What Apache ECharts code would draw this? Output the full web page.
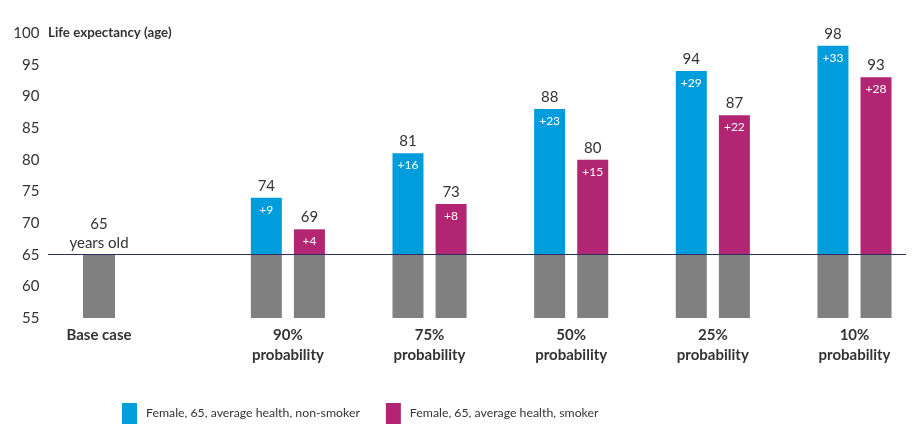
<!DOCTYPE html>
<html>
<head>
<meta charset="utf-8">
<script src="https://cdn.jsdelivr.net/npm/echarts@6/dist/echarts.min.js"></script>
<style>
html,body{margin:0;padding:0;background:#fff;}
#chart{width:916px;height:434px;}
</style>
</head>
<body>
<div id="chart"></div>
<script>
// Categories (blank slots keep the wider gap after the base case)
var categories = ['Base case', '', '', '', '90%\nprobability', '', '', '75%\nprobability', '', '', '50%\nprobability', '', '', '25%\nprobability', '', '', '10%\nprobability'];
var groupCategories = ['90%\nprobability', '75%\nprobability', '50%\nprobability', '25%\nprobability', '10%\nprobability'];
var baseAge = 65;
var nonSmoker = [74, 81, 88, 94, 98];
var smoker = [69, 73, 80, 87, 93];
var yTicks = [55, 60, 65, 70, 75, 80, 85, 90, 95, 100];
var seriesNames = ['Female, 65, average health, non-smoker', 'Female, 65, average health, smoker'];

var FONT = 'Lato';
var TXT = '#333333';
var BLUE = '#009DDC';
var MAGENTA = '#B22572';
var GREY = '#808080';
var yMin = yTicks[0];

function spread(values) {
  return categories.map(function (c) {
    var i = groupCategories.indexOf(c);
    return i >= 0 ? values[i] : null;
  });
}
var hiddenVals = spread(groupCategories.map(function () { return yMin; }));
var greyVals = spread(groupCategories.map(function () { return baseAge - yMin; }));
var blueDelta = spread(nonSmoker.map(function (v) { return v - baseAge; }));
var magDelta = spread(smoker.map(function (v) { return v - baseAge; }));
var baseHidden = categories.map(function (c) { return c === 'Base case' ? yMin : null; });
var baseCase = categories.map(function (c) { return c === 'Base case' ? baseAge - yMin : null; });

function topLabel() {
  return {
    show: true,
    position: 'top',
    distance: -25,
    fontFamily: FONT,
    formatter: function (p) {
      return '{t|' + (baseAge + p.value) + '}\n{d|+' + p.value + '}';
    },
    rich: {
      t: { fontSize: 15, color: TXT, fontFamily: FONT, lineHeight: 22, align: 'center' },
      d: { fontSize: 12, color: '#ffffff', fontFamily: FONT, lineHeight: 26, align: 'center' }
    }
  };
}
var invisible = { color: 'rgba(0,0,0,0)' };

var chart = echarts.init(document.getElementById('chart'), null, { renderer: 'canvas' });
chart.setOption({
  animation: false,
  textStyle: { fontFamily: FONT },
  title: {
    text: 'Life expectancy (age)',
    left: 43,
    top: 21,
    textStyle: { fontSize: 13.3, fontWeight: 'bold', color: TXT, fontFamily: FONT }
  },
  legend: {
    data: seriesNames,
    left: 117,
    top: 398,
    itemWidth: 15,
    itemHeight: 21,
    itemGap: 26,
    icon: 'rect',
    textStyle: { fontSize: 12.3, color: TXT, fontFamily: FONT, padding: [0, 0, 0, 4] }
  },
  grid: { left: 75.4, right: 37.9, top: 33, bottom: 116, containLabel: false },
  xAxis: [{
    type: 'category',
    data: categories,
    axisLine: { show: false },
    axisTick: { show: false },
    axisLabel: {
      interval: 0,
      margin: 7,
      fontSize: 15,
      fontWeight: 'bold',
      color: TXT,
      fontFamily: FONT,
      lineHeight: 20
    }
  }, {
    type: 'category',
    data: categories,
    show: false
  }],
  yAxis: {
    type: 'value',
    min: yMin,
    max: yTicks[yTicks.length - 1],
    interval: 5,
    axisLine: { show: false },
    axisTick: { show: false },
    splitLine: { show: false },
    axisLabel: { fontSize: 15, color: TXT, fontFamily: FONT, margin: 36 }
  },
  series: [{
    name: 'hiddenA', type: 'bar', stack: 'a', data: hiddenVals, clip: false,
    barWidth: 31, barGap: '39%', silent: true,
    itemStyle: invisible
  }, {
    name: 'greyA', type: 'bar', stack: 'a', data: greyVals, clip: false,
    barWidth: 31,
    itemStyle: { color: GREY },
    markLine: {
      silent: true, symbol: 'none',
      lineStyle: { color: '#2E2D5C', width: 1.2, type: 'solid' },
      label: { show: false },
      data: [[{ x: 48, yAxis: baseAge }, { x: 906, yAxis: baseAge }]]
    }
  }, {
    name: seriesNames[0], type: 'bar', stack: 'a', data: blueDelta, clip: false,
    barWidth: 31,
    itemStyle: { color: BLUE },
    label: topLabel()
  }, {
    name: 'hiddenB', type: 'bar', stack: 'b', data: hiddenVals, clip: false,
    barWidth: 31, silent: true,
    itemStyle: invisible
  }, {
    name: 'greyB', type: 'bar', stack: 'b', data: greyVals, clip: false,
    barWidth: 31,
    itemStyle: { color: GREY }
  }, {
    name: seriesNames[1], type: 'bar', stack: 'b', data: magDelta, clip: false,
    barWidth: 31,
    itemStyle: { color: MAGENTA },
    label: topLabel()
  }, {
    name: 'baseHidden', type: 'bar', stack: 'c', xAxisIndex: 1, data: baseHidden, clip: false,
    barWidth: 32, silent: true,
    itemStyle: invisible
  }, {
    name: 'base', type: 'bar', stack: 'c', xAxisIndex: 1, data: baseCase, clip: false,
    barWidth: 32,
    itemStyle: { color: GREY },
    label: {
      show: true, position: 'top', distance: 2,
      fontSize: 15, color: TXT, fontFamily: FONT, lineHeight: 19,
      formatter: function (p) { return (yMin + p.value) + '\nyears old'; }
    }
  }]
});
</script>
</body>
</html>
